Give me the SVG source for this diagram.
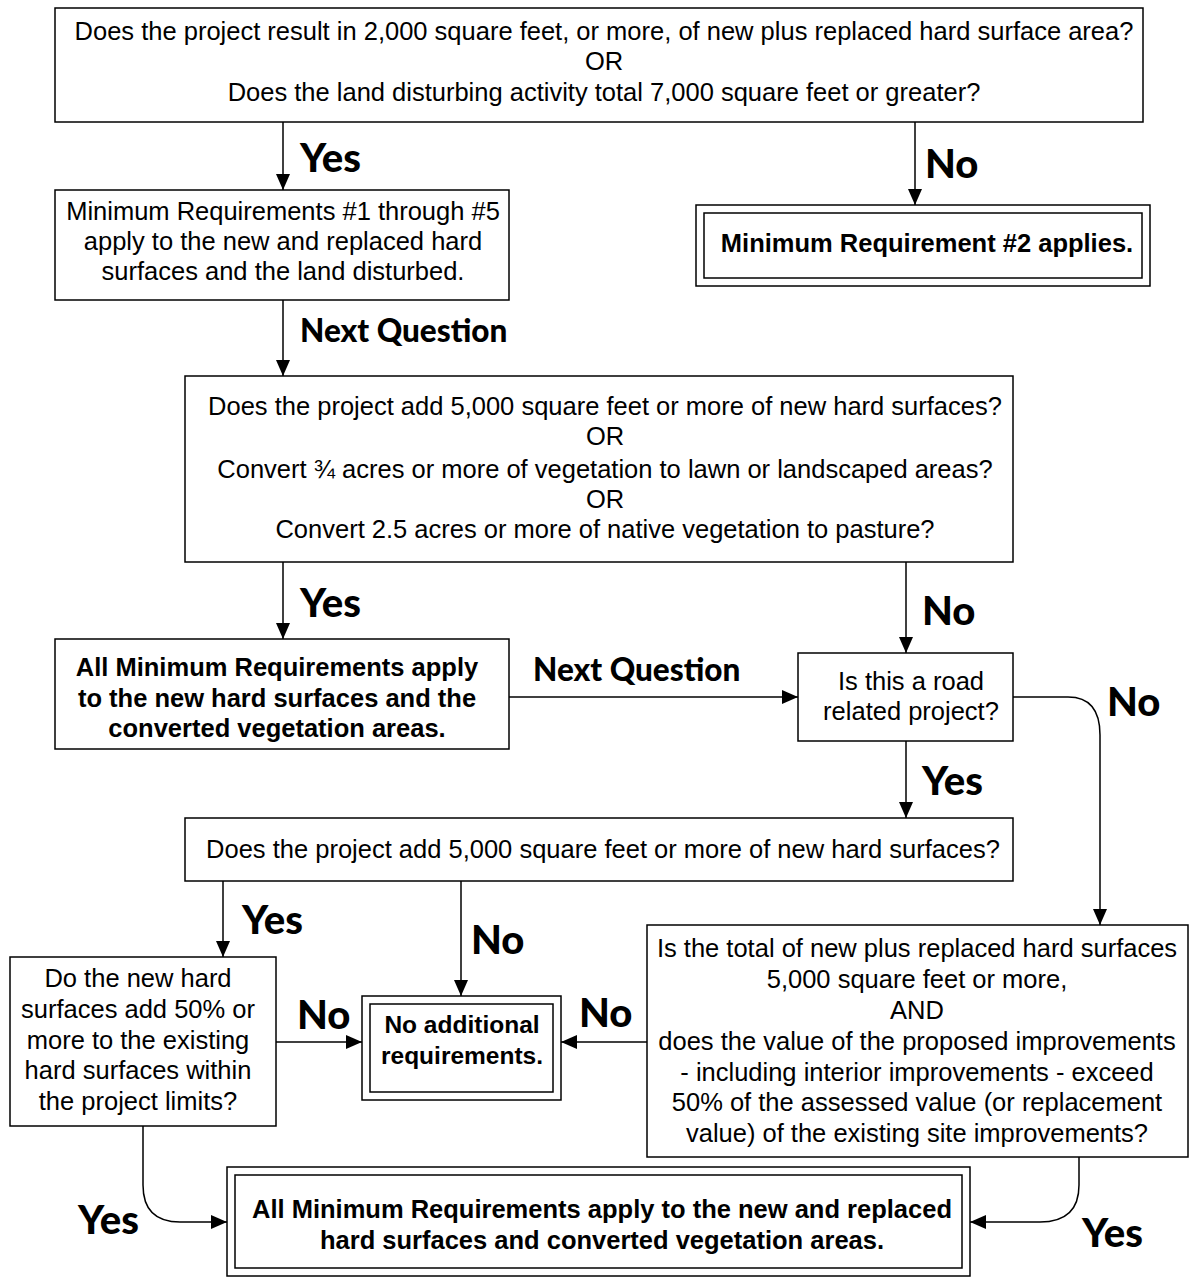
<svg xmlns="http://www.w3.org/2000/svg" width="1190" height="1277" viewBox="0 0 1190 1277">
<style>
.box{fill:#fff;stroke:#000;stroke-width:1.5}
.t{font-family:"Liberation Sans",Arial,sans-serif;font-size:25.5px;fill:#000;text-anchor:middle}
.b{font-weight:bold}
.lbl{font-family:Lato,"DejaVu Sans",sans-serif;font-weight:900;font-size:40px;fill:#000}
.nq{font-size:31.5px}
.c{fill:none;stroke:#000;stroke-width:1.5}
</style>
<defs>
<marker id="ah" viewBox="0 0 16 14" refX="16" refY="7" markerWidth="16" markerHeight="14" markerUnits="userSpaceOnUse" orient="auto">
<path d="M0,0 L16,7 L0,14 Z" fill="#000"/>
</marker>
</defs>
<rect width="1190" height="1277" fill="#fff"/>
<g id="connectors">
<line class="c" x1="283" y1="122" x2="283" y2="190" marker-end="url(#ah)"/>
<line class="c" x1="915" y1="122" x2="915" y2="205" marker-end="url(#ah)"/>
<line class="c" x1="283" y1="300" x2="283" y2="376" marker-end="url(#ah)"/>
<line class="c" x1="283" y1="562" x2="283" y2="639" marker-end="url(#ah)"/>
<line class="c" x1="906" y1="562" x2="906" y2="653" marker-end="url(#ah)"/>
<line class="c" x1="509" y1="697" x2="798" y2="697" marker-end="url(#ah)"/>
<path class="c" d="M1013,697 L1068,697 Q1100,697 1100,735 L1100,925" marker-end="url(#ah)"/>
<line class="c" x1="906" y1="741" x2="906" y2="818" marker-end="url(#ah)"/>
<line class="c" x1="223" y1="881" x2="223" y2="957" marker-end="url(#ah)"/>
<line class="c" x1="461" y1="881" x2="461" y2="996" marker-end="url(#ah)"/>
<line class="c" x1="276" y1="1042" x2="362" y2="1042" marker-end="url(#ah)"/>
<line class="c" x1="647" y1="1042" x2="561" y2="1042" marker-end="url(#ah)"/>
<path class="c" d="M143,1126 L143,1185 Q143,1222 180,1222 L227,1222" marker-end="url(#ah)"/>
<path class="c" d="M1079,1157 L1079,1185 Q1079,1222 1040,1222 L970,1222" marker-end="url(#ah)"/>
<text class="lbl" x="300" y="172">Yes</text>
<text class="lbl" x="925" y="178">No</text>
<text class="lbl nq" x="300" y="342">Next Question</text>
<text class="lbl" x="300" y="617">Yes</text>
<text class="lbl" x="922" y="625">No</text>
<text class="lbl nq" x="533" y="681">Next Question</text>
<text class="lbl" x="1107" y="716">No</text>
<text class="lbl" x="922" y="795">Yes</text>
<text class="lbl" x="242" y="934">Yes</text>
<text class="lbl" x="471" y="954">No</text>
<text class="lbl" x="297" y="1029">No</text>
<text class="lbl" x="579" y="1027">No</text>
<text class="lbl" x="78" y="1234">Yes</text>
<text class="lbl" x="1082" y="1247">Yes</text>
</g>
<g id="q1">
<rect class="box" x="55" y="8" width="1088" height="114"/>
<text class="t" x="604" y="40">Does the project result in 2,000 square feet, or more, of new plus replaced hard surface area?</text>
<text class="t" x="604" y="70">OR</text>
<text class="t" x="604" y="101">Does the land disturbing activity total 7,000 square feet or greater?</text>
</g>
<g id="mr1to5">
<rect class="box" x="55" y="190" width="454" height="110"/>
<text class="t" x="283" y="220">Minimum Requirements #1 through #5</text>
<text class="t" x="283" y="250">apply to the new and replaced hard</text>
<text class="t" x="283" y="280">surfaces and the land disturbed.</text>
</g>
<g id="mr2">
<rect class="box" x="696" y="205" width="454" height="81"/>
<rect class="box" x="704" y="213" width="438" height="65"/>
<text class="t b" x="927" y="252">Minimum Requirement #2 applies.</text>
</g>
<g id="q2">
<rect class="box" x="185" y="376" width="828" height="186"/>
<text class="t" x="605" y="415">Does the project add 5,000 square feet or more of new hard surfaces?</text>
<text class="t" x="605" y="445">OR</text>
<text class="t" x="605" y="478">Convert ¾ acres or more of vegetation to lawn or landscaped areas?</text>
<text class="t" x="605" y="508">OR</text>
<text class="t" x="605" y="538">Convert 2.5 acres or more of native vegetation to pasture?</text>
</g>
<g id="allmr1">
<rect class="box" x="55" y="639" width="454" height="110"/>
<text class="t b" x="277" y="676">All Minimum Requirements apply</text>
<text class="t b" x="277" y="707">to the new hard surfaces and the</text>
<text class="t b" x="277" y="737">converted vegetation areas.</text>
</g>
<g id="road">
<rect class="box" x="798" y="653" width="215" height="88"/>
<text class="t" x="911" y="690">Is this a road</text>
<text class="t" x="911" y="720">related project?</text>
</g>
<g id="q3">
<rect class="box" x="185" y="818" width="828" height="63"/>
<text class="t" x="603" y="858">Does the project add 5,000 square feet or more of new hard surfaces?</text>
</g>
<g id="q50">
<rect class="box" x="10" y="957" width="266" height="169"/>
<text class="t" x="138" y="987">Do the new hard</text>
<text class="t" x="138" y="1018">surfaces add 50% or</text>
<text class="t" x="138" y="1049">more to the existing</text>
<text class="t" x="138" y="1079">hard surfaces within</text>
<text class="t" x="138" y="1110">the project limits?</text>
</g>
<g id="noadd">
<rect class="box" x="362" y="996" width="199" height="104"/>
<rect class="box" x="370" y="1004" width="183" height="88"/>
<text class="t b" x="462" y="1033" style="font-size:24.5px">No additional</text>
<text class="t b" x="462" y="1064" style="font-size:24.5px">requirements.</text>
</g>
<g id="qtotal">
<rect class="box" x="647" y="925" width="541" height="232"/>
<text class="t" x="917" y="957">Is the total of new plus replaced hard surfaces</text>
<text class="t" x="917" y="988">5,000 square feet or more,</text>
<text class="t" x="917" y="1019">AND</text>
<text class="t" x="917" y="1050">does the value of the proposed improvements</text>
<text class="t" x="917" y="1081">- including interior improvements - exceed</text>
<text class="t" x="917" y="1111">50% of the assessed value (or replacement</text>
<text class="t" x="917" y="1142">value) of the existing site improvements?</text>
</g>
<g id="allmr2">
<rect class="box" x="227" y="1167" width="743" height="109"/>
<rect class="box" x="235" y="1175" width="727" height="93"/>
<text class="t b" x="602" y="1218">All Minimum Requirements apply to the new and replaced</text>
<text class="t b" x="602" y="1249">hard surfaces and converted vegetation areas.</text>
</g>
</svg>
